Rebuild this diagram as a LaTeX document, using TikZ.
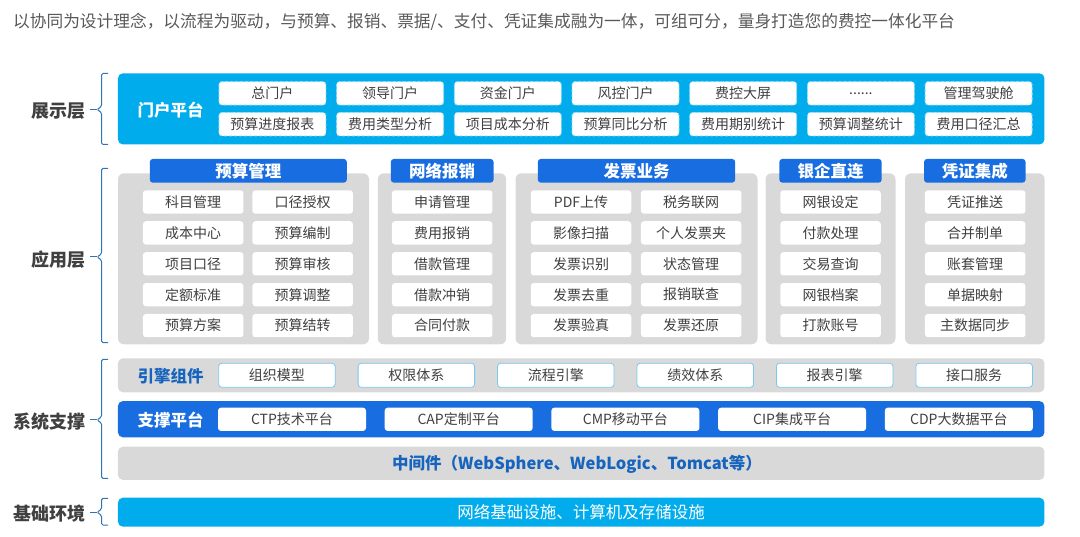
\documentclass[tikz,border=0pt]{standalone}
\usepackage{fontspec}
\setmainfont{Noto Sans CJK SC}
\usepackage{tikz}
\usetikzlibrary{positioning}

\definecolor{portalcyan}{RGB}{0,172,236}
\definecolor{headblue}{RGB}{24,109,224}
\definecolor{deepblue}{RGB}{22,100,190}
\definecolor{panelgray}{RGB}{217,217,217}
\definecolor{textgray}{RGB}{64,64,64}
\definecolor{leadgray}{RGB}{89,89,89}
\definecolor{bracecol}{RGB}{46,117,182}
\definecolor{framecyan}{RGB}{120,200,240}

\newcommand{\pxfont}[1]{\fontsize{#1}{#1}\selectfont}
\newcommand{\moredots}{......}
% bracket with a small tip towards the layer name
\newcommand{\layerbrace}[3]{%
  \draw[bracecol, line width=1pt, rounded corners=1.5pt] (108,#1) -- (101.5,#1) -- (101.5,#3-3) -- (97,#3) -- (101.5,#3+3) -- (101.5,#2) -- (108,#2);
  \draw[bracecol, line width=1pt] (97,#3) -- (90,#3);
}

\begin{document}
\begin{tikzpicture}[
    x=1pt, y=-1pt,
    layertext/.style={font=\pxfont{18}\bfseries, text=textgray},
    portalbar/.style={fill=portalcyan, rounded corners=5pt, inner sep=0pt},
    portalitem/.style={fill=white, draw=white!55!portalcyan, densely dashed, line width=0.8pt, rounded corners=3pt, minimum width=107pt, minimum height=23.5pt, inner sep=0pt, font=\pxfont{14}, text=textgray},
    panel/.style={fill=panelgray, rounded corners=6pt, inner sep=0pt},
    grouphead/.style={fill=headblue, rounded corners=3pt, minimum height=23.7pt, inner sep=0pt, font=\pxfont{16.5}\bfseries, text=white},
    appitem/.style={fill=white, rounded corners=3pt, minimum width=100.5pt, minimum height=23.3pt, inner sep=0pt, font=\pxfont{14}, text=textgray},
    engitem/.style={appitem, draw=framecyan, line width=0.8pt, minimum width=116.5pt, minimum height=24pt},
    supitem/.style={appitem, minimum width=148pt},
]
\useasboundingbox (0,0) rectangle (1080,537);

% Lead text
\node[anchor=west, font=\pxfont{16.7}, text=leadgray, inner sep=0pt] (lead) at (13,22) {以协同为设计理念，以流程为驱动，与预算、报销、票据/、支付、凭证集成融为一体，可组可分，量身打造您的费控一体化平台};

% Layer names
\node[layertext] (show) at (58.5,111.5) {展示层};
\node[layertext] (app) at (58.5,260) {应用层};
\node[layertext] (sys) at (49,421.7) {系统支撑};
\node[layertext] (base) at (49,513.3) {基础环境};
\layerbrace{73.5}{144.5}{109.5}
\layerbrace{168.3}{342.7}{257}
\layerbrace{359.3}{478.3}{420}
\layerbrace{498.3}{525}{512.3}

% Portal platform
\node[portalbar, minimum width=926.5pt, minimum height=71.2pt] (portal) at (581.2,108.9) {};
\node[font=\pxfont{16.5}\bfseries, text=white] (portallabel) at (170.5,110) {门户平台};
\foreach \t [count=\i from 0] in {总门户,领导门户,资金门户,风控门户,费控大屏,\moredots,管理驾驶舱}
  \node[portalitem] (pa-\i) at (272.4+117.7*\i,93.3) {\t};
\foreach \t [count=\i from 0] in {预算进度报表,费用类型分析,项目成本分析,预算同比分析,费用期别统计,预算调整统计,费用口径汇总}
  \node[portalitem] (pb-\i) at (272.4+117.7*\i,124.2) {\t};

% Application groups
\node[panel, minimum width=251pt, minimum height=171pt] (budgetbg) at (243.5,258.8) {};
\node[grouphead, minimum width=197pt] (budget) at (248.3,170.8) {预算管理};
\foreach \t [count=\j from 0] in {科目管理,成本中心,项目口径,定额标准,预算方案}
  \node[appitem] (budget-a\j) at (193.2,202+30.9*\j) {\t};
\foreach \t [count=\j from 0] in {口径授权,预算编制,预算审核,预算调整,预算结转}
  \node[appitem] (budget-b\j) at (302.7,202+30.9*\j) {\t};

\node[panel, minimum width=128.4pt, minimum height=171pt] (reimbg) at (442,258.8) {};
\node[grouphead, minimum width=102.7pt] (reim) at (442.2,170.8) {网络报销};
\foreach \t [count=\j from 0] in {申请管理,费用报销,借款管理,借款冲销,合同付款}
  \node[appitem] (reim-\j) at (442.2,202+30.9*\j) {\t};

\node[panel, minimum width=242pt, minimum height=171pt] (invbg) at (636.5,258.8) {};
\node[grouphead, minimum width=197.3pt] (inv) at (636.5,170.8) {发票业务};
\foreach \t [count=\j from 0] in {PDF上传,影像扫描,发票识别,发票去重,发票验真}
  \node[appitem] (inv-a\j) at (581,202+30.9*\j) {\t};
\foreach \t [count=\j from 0] in {税务联网,个人发票夹,状态管理,报销联查,发票还原}
  \node[appitem] (inv-b\j) at (691.2,202+30.9*\j) {\t};

\node[panel, minimum width=130pt, minimum height=171pt] (bankbg) at (830.5,258.8) {};
\node[grouphead, minimum width=102.3pt] (bank) at (830.5,170.8) {银企直连};
\foreach \t [count=\j from 0] in {网银设定,付款处理,交易查询,网银档案,打款账号}
  \node[appitem] (bank-\j) at (830.6,202+30.9*\j) {\t};

\node[panel, minimum width=139.5pt, minimum height=171pt] (vouchbg) at (974.8,258.8) {};
\node[grouphead, minimum width=101.5pt] (vouch) at (974.8,170.8) {凭证集成};
\foreach \t [count=\j from 0] in {凭证推送,合并制单,账套管理,单据映射,主数据同步}
  \node[appitem] (vouch-\j) at (975.2,202+30.9*\j) {\t};

% Engine components
\node[panel, rounded corners=5pt, minimum width=926.5pt, minimum height=34pt] (engine) at (581.2,375.3) {};
\node[font=\pxfont{16.5}\bfseries, text=deepblue] (enginelabel) at (170.5,376) {引擎组件};
\foreach \t [count=\i from 0] in {组织模型,权限体系,流程引擎,绩效体系,报表引擎,接口服务}
  \node[engitem] (eng-\i) at (276.9+139.45*\i,375.3) {\t};

% Support platform
\node[panel, fill=headblue, rounded corners=5pt, minimum width=926.5pt, minimum height=36.3pt] (support) at (581.2,419.2) {};
\node[font=\pxfont{16.5}\bfseries, text=white] (supportlabel) at (170.5,420.5) {支撑平台};
\foreach \t [count=\i from 0] in {CTP技术平台,CAP定制平台,CMP移动平台,CIP集成平台,CDP大数据平台}
  \node[supitem] (sup-\i) at (292+166.7*\i,419.3) {\t};

% Middleware
\node[panel, rounded corners=5pt, minimum width=926.5pt, minimum height=33.3pt] (middle) at (581.2,463.3) {};
\node[font=\pxfont{16.5}\bfseries, text=deepblue] (middlelabel) at (577,464) {中间件（WebSphere、WebLogic、Tomcat等）};

% Base environment
\node[portalbar, minimum width=926.5pt, minimum height=29pt, font=\pxfont{16.5}, text=white] (infra) at (581.2,512.2) {网络基础设施、计算机及存储设施};

\end{tikzpicture}
\end{document}
